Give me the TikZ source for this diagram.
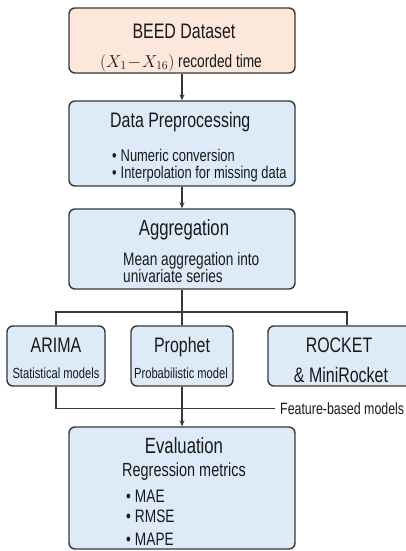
\documentclass[tikz,border=0pt]{standalone}
\usepackage{fontspec}
\setmainfont{Liberation Sans}[FakeStretch=0.76]
\usepackage{tikz}
\usetikzlibrary{arrows.meta,positioning,calc}
\definecolor{peach}{RGB}{252,232,219}
\definecolor{paleblue}{RGB}{221,235,248}
\definecolor{darkgrey}{RGB}{55,55,55}
\newcommand{\sz}[1]{\fontsize{#1}{#1}\selectfont}

\tikzset{
  box/.style={draw=darkgrey, line width=1.4pt, rounded corners=6pt, fill=paleblue, inner sep=0pt},
  link/.style={darkgrey, line width=1.1pt},
  txt/.style={inner sep=0pt, text=black!90},
}

\begin{document}
\begin{tikzpicture}[x=1pt, y=-1pt, >={Stealth[length=6pt,width=5pt]}]
    \useasboundingbox (0,0) rectangle (406,551);

    % Dataset box
    \node[box, fill=peach, minimum width=226pt, minimum height=65pt] (beed) at (182,40.5) {};
    \node[txt, anchor=base, font=\sz{21}] (beedtitle) at (184,38) {BEED Dataset};
    \node[txt, anchor=base, font=\sz{18}] (beedsub) at (181,67) {$(X_1\!-\!X_{16})$ recorded time};

    % Preprocessing box
    \node[box, minimum width=226pt, minimum height=85pt] (prep) at (182,143.5) {};
    \node[txt, anchor=base west, font=\sz{21}] (preptitle) at (110,127) {Data Preprocessing};
    \node[txt, anchor=base west, font=\sz{17}] (prepa) at (112,161) {\textbullet\hspace{4pt}Numeric conversion};
    \node[txt, anchor=base west, font=\sz{17}] (prepb) at (112,178) {\textbullet\hspace{4pt}Interpolation for missing data};

    % Aggregation box
    \node[box, minimum width=226pt, minimum height=80pt] (agg) at (182,249) {};
    \node[txt, anchor=base, font=\sz{22}] (aggtitle) at (184,235) {Aggregation};
    \node[txt, anchor=base west, font=\sz{18}] (agga) at (123,265) {Mean aggregation into};
    \node[txt, anchor=base west, font=\sz{18}] (aggb) at (123,282) {univariate series};

    % Model boxes
    \node[box, minimum width=98pt, minimum height=60pt] (arima) at (56,356) {};
    \node[txt, anchor=base, font=\sz{21}] (arimatitle) at (56,352) {ARIMA};
    \node[txt, anchor=base, font=\sz{14.7}] (arimasub) at (56,378) {Statistical models};

    \node[box, minimum width=102pt, minimum height=60pt] (prophet) at (182,356) {};
    \node[txt, anchor=base, font=\sz{21}] (prophettitle) at (182,352) {Prophet};
    \node[txt, anchor=base, font=\sz{14.7}] (prophetsub) at (181,378) {Probabilistic model};

    \node[box, minimum width=144pt, minimum height=60pt] (rocket) at (340,356) {};
    \node[txt, anchor=base, font=\sz{21}] (rockettitle) at (339,352) {ROCKET};
    \node[txt, anchor=base, font=\sz{21}] (rocketsub) at (341,382) {\& MiniRocket};

    % Evaluation box
    \node[box, minimum width=226pt, minimum height=122pt] (eval) at (182,488) {};
    \node[txt, anchor=base, font=\sz{22}] (evaltitle) at (184,453) {Evaluation};
    \node[txt, anchor=base, font=\sz{19}] (evalsub) at (184,476) {Regression metrics};
    \node[txt, anchor=base west, font=\sz{18}] (evala) at (126,502) {\textbullet\hspace{4pt}MAE};
    \node[txt, anchor=base west, font=\sz{18}] (evalb) at (126,522) {\textbullet\hspace{4pt}RMSE};
    \node[txt, anchor=base west, font=\sz{18}] (evalc) at (126,545) {\textbullet\hspace{4pt}MAPE};

    % Connectors
    \draw[link, ->] (beed.south) -- (prep.north);
    \draw[link, ->] (prep.south) -- (agg.north);
    \coordinate (split) at (182,312);
    \draw[link] (agg.south) -- (split);
    \draw[link] (arima.north) |- (split) -| ([xshift=7pt]rocket.north);
    \draw[link] (prophet.north) -- (split);

    \node[txt, anchor=base west, inner xsep=5pt, font=\sz{16.3}] (feat) at (275,414) {Feature-based models};
    \draw[link] (arima.south) |- (feat.west);
    \draw[link, ->] (prophet.south) -- (eval.north);
\end{tikzpicture}
\end{document}
